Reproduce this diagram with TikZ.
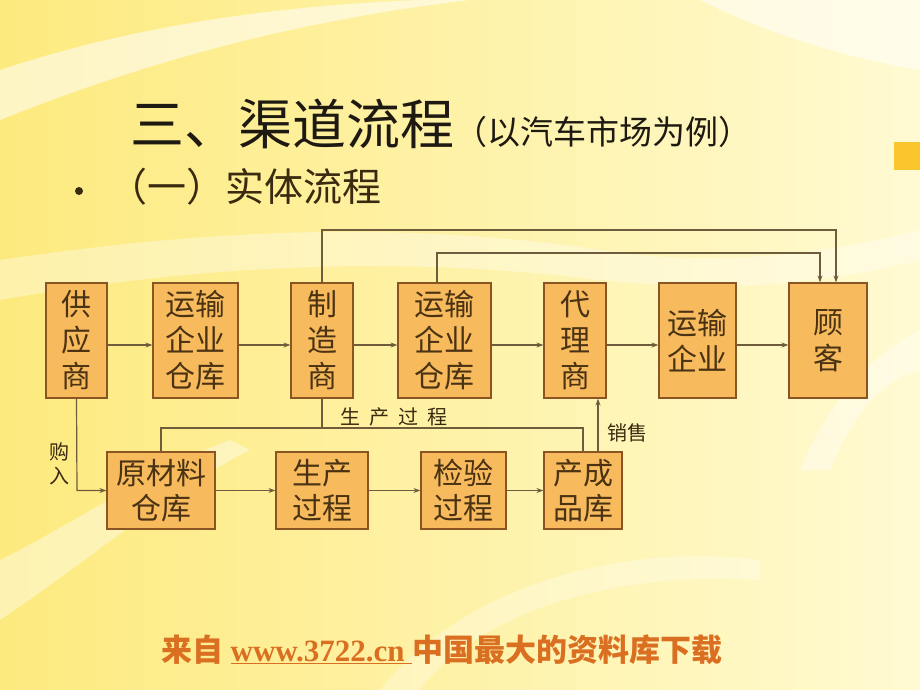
\documentclass[tikz,border=0pt]{standalone}
\usepackage{fontspec}
\setmainfont{Liberation Serif}
\newfontfamily\cjk{Noto Sans CJK SC}
\usetikzlibrary{arrows.meta}
\definecolor{boxfill}{HTML}{F7BB5E}
\definecolor{boxline}{HTML}{8A5522}
\definecolor{boxtext}{HTML}{4A3212}
\definecolor{flowline}{HTML}{6E5C3C}
\definecolor{bgleft}{HTML}{FDEA7E}
\definecolor{bgright}{HTML}{FFFAD2}
\definecolor{titlecol}{HTML}{1E1A12}
\definecolor{subcol}{HTML}{3A2A10}
\definecolor{footcol}{HTML}{DA6F22}
\definecolor{tabcol}{HTML}{FBC52E}
\begin{document}
\begin{tikzpicture}[x=1pt,y=-1pt,
  box/.style={draw=boxline, line width=1.2pt, fill=boxfill, text=boxtext,
    font=\cjk\fontsize{30}{36}\selectfont, align=center, inner sep=0pt,
    minimum height=115pt},
  lowbox/.style={box, minimum height=77pt, font=\cjk\fontsize{30}{35}\selectfont},
  flow/.style={draw=flowline, line width=1.2pt},
  arr/.style={flow, -{Stealth[length=7pt,width=5pt]}},
  lbl/.style={text=subcol, font=\cjk\fontsize{20}{24}\selectfont, align=center, inner sep=0pt},
  swoosh/.style={white, opacity=0.55, line cap=round}]
% background
\useasboundingbox (0,0) rectangle (920,690);
\shade[left color=bgleft, right color=bgright] (0,0) rectangle (920,690);
\fill[swoosh] (0,70) .. controls (150,20) and (300,5) .. (420,0) -- (470,0) .. controls (300,20) and (150,60) .. (0,120) -- cycle;
\fill[swoosh] (700,0) .. controls (780,40) and (860,60) .. (920,70) -- (920,0) -- cycle;
\fill[swoosh, opacity=0.35] (0,260) .. controls (200,230) and (400,220) .. (600,250) .. controls (700,265) and (800,260) .. (920,230) -- (920,260) .. controls (800,290) and (700,290) .. (600,280) .. controls (400,255) and (200,265) .. (0,300) -- cycle;
\fill[swoosh, opacity=0.4] (0,560) .. controls (80,520) and (150,470) .. (230,440) -- (250,450) .. controls (170,490) and (90,560) .. (0,620) -- cycle;
\fill[swoosh, opacity=0.4] (920,330) .. controls (860,360) and (820,420) .. (800,470) -- (830,470) .. controls (850,420) and (880,380) .. (920,370) -- cycle;
\fill[swoosh, opacity=0.3] (380,690) .. controls (450,600) and (600,540) .. (760,560) -- (760,580) .. controls (600,570) and (470,620) .. (420,690) -- cycle;
\fill[tabcol] (894,142) rectangle (920,170);
% titles
\node[anchor=west, text=titlecol, inner sep=0pt] (title) at (130,124)
  {\cjk\fontsize{54}{60}\selectfont 三、渠道流程\fontsize{33}{40}\selectfont（以汽车市场为例）};
\node[circle, fill=subcol, inner sep=0pt, minimum size=8pt] (bullet) at (79,191) {};
\node[anchor=west, text=subcol, inner sep=0pt] (sub) at (108,187)
  {\cjk\fontsize{39}{44}\selectfont（一）实体流程};
% top row
\node[box, minimum width=61pt] (sup) at (76.5,340.5) {供\\应\\商};
\node[box, minimum width=85pt] (tw1) at (195.5,340.5) {运输\\企业\\仓库};
\node[box, minimum width=62pt] (mfr) at (322,340.5) {制\\造\\商};
\node[box, minimum width=93pt] (tw2) at (444.5,340.5) {运输\\企业\\仓库};
\node[box, minimum width=62pt] (agt) at (575,340.5) {代\\理\\商};
\node[box, minimum width=77pt] (trn) at (697.5,340.5) {运输\\企业};
\node[box, minimum width=78pt] (cus) at (828,340.5) {顾\\客};
% bottom row
\node[lowbox, minimum width=108pt] (raw) at (161,490.5) {原材料\\仓库};
\node[lowbox, minimum width=92pt] (prd) at (322,490.5) {生产\\过程};
\node[lowbox, minimum width=85pt] (chk) at (463.5,490.5) {检验\\过程};
\node[lowbox, minimum width=78pt] (fin) at (583,490.5) {产成\\品库};
% top row arrows
\draw[arr] ([yshift=-4.5pt]sup.east) -- ([yshift=-4.5pt]tw1.west);
\draw[arr] ([yshift=-4.5pt]tw1.east) -- ([yshift=-4.5pt]mfr.west);
\draw[arr] ([yshift=-4.5pt]mfr.east) -- ([yshift=-4.5pt]tw2.west);
\draw[arr] ([yshift=-4.5pt]tw2.east) -- ([yshift=-4.5pt]agt.west);
\draw[arr] ([yshift=-4.5pt]agt.east) -- ([yshift=-4.5pt]trn.west);
\draw[arr] ([yshift=-4.5pt]trn.east) -- ([yshift=-4.5pt]cus.west);
% bypass lines to customers
\coordinate (m1) at (322,230);
\coordinate (m2) at (836,230);
\draw[arr] (mfr.north) -- (m1) -- (m2) -- ([xshift=8pt]cus.north);
\coordinate (w1) at (437,253);
\coordinate (w2) at (820,253);
\draw[arr] ([xshift=-7.5pt]tw2.north) -- (w1) -- (w2) -- ([xshift=-8pt]cus.north);
% bottom row arrows
\draw[arr] (raw.east) -- (prd.west);
\draw[arr] (prd.east) -- (chk.west);
\draw[arr] (chk.east) -- (fin.west);
% purchase
\coordinate (p1) at (77,490.5);
\draw[arr] (sup.south) -- (p1) -- (raw.west);
\node[lbl] (buy) at (59,464) {购\\入};
% production loop
\coordinate (l1) at (161,428);
\coordinate (l2) at (583,428);
\coordinate (l3) at (322,428);
\draw[flow] (raw.north) -- (l1) -- (l2) -- (fin.north);
\draw[flow] (mfr.south) -- (l3);
\node[lbl] (prodlbl) at (394,417) {生\hspace{9pt}产\hspace{9pt}过\hspace{9pt}程};
% sales
\draw[arr] ([xshift=15pt]fin.north) -- ([xshift=23pt]agt.south);
\node[lbl, anchor=west] (sell) at (607,433) {销售};
% footer
\node[text=footcol, inner sep=0pt] (foot) at (442,650)
  {\bfseries\cjk\fontsize{31}{36}\selectfont 来自 {\rmfamily\bfseries\underline{www.3722.cn\ }}中国最大的资料库下载};
\end{tikzpicture}
\end{document}
